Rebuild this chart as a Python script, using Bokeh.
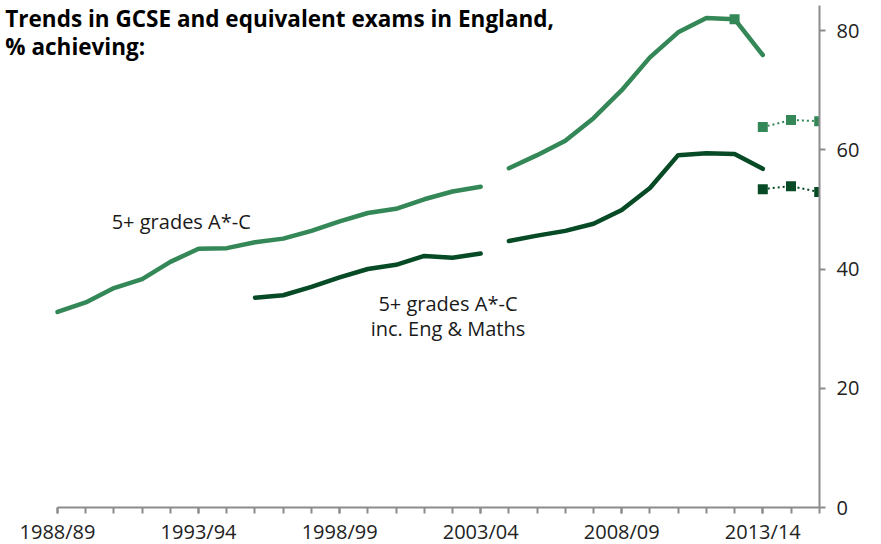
from bokeh.plotting import figure
from bokeh.models import Range1d, FixedTicker, Label
from bokeh.embed import file_html
from bokeh.resources import INLINE

# ---- data ----
tick_years = [1988, 1993, 1998, 2003, 2008, 2013]
tick_labels = ["1988/89", "1993/94", "1998/99", "2003/04", "2008/09", "2013/14"]
all_years = list(range(1988, 2016))

# 5+ grades A*-C
light_years_1 = list(range(1988, 2004))
light_vals_1 = [32.8, 34.4, 36.8, 38.3, 41.2, 43.4, 43.5, 44.5, 45.1, 46.4,
                48.0, 49.4, 50.1, 51.7, 53.0, 53.8]
light_years_2 = list(range(2004, 2014))
light_vals_2 = [56.9, 59.1, 61.5, 65.3, 70.0, 75.5, 79.7, 82.1, 81.9, 75.9]
light_mark_year = [2012]
light_mark_val = [81.9]
light_new_years = [2013, 2014, 2015]
light_new_vals = [63.8, 65.0, 64.8]

# 5+ grades A*-C inc. Eng & Maths
dark_years_1 = list(range(1995, 2004))
dark_vals_1 = [35.2, 35.6, 37.0, 38.6, 40.0, 40.7, 42.2, 41.9, 42.6]
dark_years_2 = list(range(2004, 2014))
dark_vals_2 = [44.7, 45.6, 46.4, 47.6, 49.9, 53.6, 59.1, 59.4, 59.3, 56.8]
dark_new_years = [2013, 2014, 2015]
dark_new_vals = [53.4, 53.9, 52.9]

y_ticks = [0, 20, 40, 60, 80]

LIGHT = "#348757"
DARK = "#074a26"
AXIS = "#8c8c8c"
FONT = "Open Sans"

p = figure(frame_width=819, frame_height=502,
           x_range=Range1d(1985.979, 2015.01), y_range=Range1d(0, 84.2),
           output_backend="svg", toolbar_location=None,
           y_axis_location="right",
           min_border_left=0, min_border_top=5, min_border_right=0, min_border_bottom=0)
p.outline_line_color = None
p.xgrid.visible = False
p.ygrid.visible = False

# lines
for xs, ys, c in [(light_years_1, light_vals_1, LIGHT), (light_years_2, light_vals_2, LIGHT),
                  (dark_years_1, dark_vals_1, DARK), (dark_years_2, dark_vals_2, DARK)]:
    p.line(xs, ys, line_color=c, line_width=4.5, line_cap="round", line_join="round")

p.line(light_new_years, light_new_vals, line_color=LIGHT, line_width=2, line_dash="2 3")
p.line(dark_new_years, dark_new_vals, line_color=DARK, line_width=2, line_dash="2 3")
p.scatter(light_new_years, light_new_vals, marker="square", size=10, fill_color=LIGHT, line_color=None)
p.scatter(dark_new_years, dark_new_vals, marker="square", size=10, fill_color=DARK, line_color=None)
p.scatter(light_mark_year, light_mark_val, marker="square", size=10, fill_color=LIGHT, line_color=None)

# axes
xa = p.xaxis[0]
xa.bounds = (1988, 2015)
xa.ticker = FixedTicker(ticks=tick_years, minor_ticks=all_years)
xa.major_label_overrides = {y: l for y, l in zip(tick_years, tick_labels)}
xa.axis_line_color = AXIS
xa.axis_line_width = 2
xa.major_tick_line_color = AXIS
xa.minor_tick_line_color = AXIS
xa.major_tick_line_width = 2
xa.minor_tick_line_width = 2
xa.major_tick_in = 0
xa.major_tick_out = 6
xa.minor_tick_in = 0
xa.minor_tick_out = 6
xa.major_label_text_font = FONT
xa.major_label_text_font_size = "20px"
xa.major_label_text_color = "#222222"
xa.major_label_standoff = 4

ya = p.yaxis[0]
ya.ticker = FixedTicker(ticks=y_ticks)
ya.axis_line_color = AXIS
ya.axis_line_width = 2
ya.major_tick_line_color = AXIS
ya.major_tick_line_width = 2
ya.major_tick_in = 0
ya.major_tick_out = 6
ya.minor_tick_line_color = None
ya.major_label_text_font = FONT
ya.major_label_text_font_size = "20px"
ya.major_label_text_color = "#222222"
ya.major_label_standoff = 11

# texts
TITLE_KW = dict(text_font=FONT, text_font_size="22.5px", text_font_style="bold",
                text_baseline="alphabetic", text_align="left", text_color="#000000")
p.add_layout(Label(x=1986.15, y=82.0, text="Trends in GCSE and equivalent exams in England,", **TITLE_KW))
p.add_layout(Label(x=1986.15, y=77.4, text="% achieving:", **TITLE_KW))

ANN_KW = dict(text_font=FONT, text_font_size="20px", text_baseline="alphabetic", text_color="#1a1a1a")
p.add_layout(Label(x=1989.92, y=48.0, text="5+ grades A*-C", text_align="left", **ANN_KW))
p.add_layout(Label(x=2001.84, y=34.2, text="5+ grades A*-C", text_align="center", **ANN_KW))
p.add_layout(Label(x=2001.84, y=30.1, text="inc. Eng & Maths", text_align="center", **ANN_KW))

open("out.html", "w").write(file_html(p, INLINE))
